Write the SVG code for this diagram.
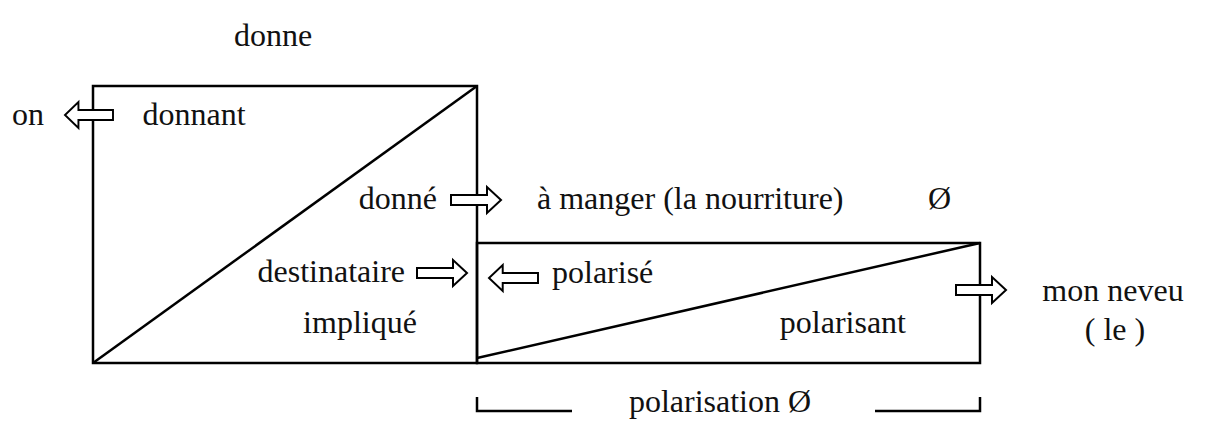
<svg xmlns="http://www.w3.org/2000/svg" width="1210" height="426" viewBox="0 0 1210 426">
<style>
.t{font-family:"Liberation Serif","Times New Roman",serif;font-size:32px;fill:#111}
.m{text-anchor:middle}
.e{text-anchor:end}
.ln{stroke:#000;stroke-width:2.5;fill:none}
.ar{stroke:#000;stroke-width:2;fill:#fff;stroke-linejoin:miter}
</style>
<defs>
<path id="arr" d="M0,-5 L36,-5 L36,-13 L50,0 L36,13 L36,5 L0,5 Z"/>
</defs>
<rect width="1210" height="426" fill="#fff"/>
<g id="donnant-box">
<rect class="ln" x="93" y="86" width="384" height="277"/>
<line class="ln" x1="93" y1="363" x2="477" y2="86"/>
</g>
<g id="polarise-box">
<rect class="ln" x="477" y="243" width="503" height="120"/>
<line class="ln" x1="477" y1="358" x2="980" y2="243"/>
</g>
<g id="bracket">
<path class="ln" d="M477,397 V411 H572 M875,411 H980 V397"/>
</g>
<g id="connectors">
<use href="#arr" class="ar" transform="translate(113,115) scale(-0.96,1)"/>
<use href="#arr" class="ar" transform="translate(451,200)"/>
<use href="#arr" class="ar" transform="translate(417,273)"/>
<use href="#arr" class="ar" transform="translate(538,278) scale(-0.98,1)"/>
<use href="#arr" class="ar" transform="translate(956,290)"/>
</g>
<g id="labels">
<text class="t m" x="273" y="46">donne</text>
<text class="t m" x="28" y="125">on</text>
<text class="t m" x="194" y="125">donnant</text>
<text class="t e" x="437" y="209">donné</text>
<text class="t" x="537" y="209">à manger (la nourriture)</text>
<text class="t" x="928" y="209">Ø</text>
<text class="t e" x="405" y="282">destinataire</text>
<text class="t m" x="360" y="333">impliqué</text>
<text class="t" x="552" y="283">polarisé</text>
<text class="t e" x="906" y="333">polarisant</text>
<text class="t m" x="1113" y="301">mon neveu</text>
<text class="t m" x="1115" y="340">( le )</text>
<text class="t m" x="720" y="412">polarisation Ø</text>
</g>
</svg>
